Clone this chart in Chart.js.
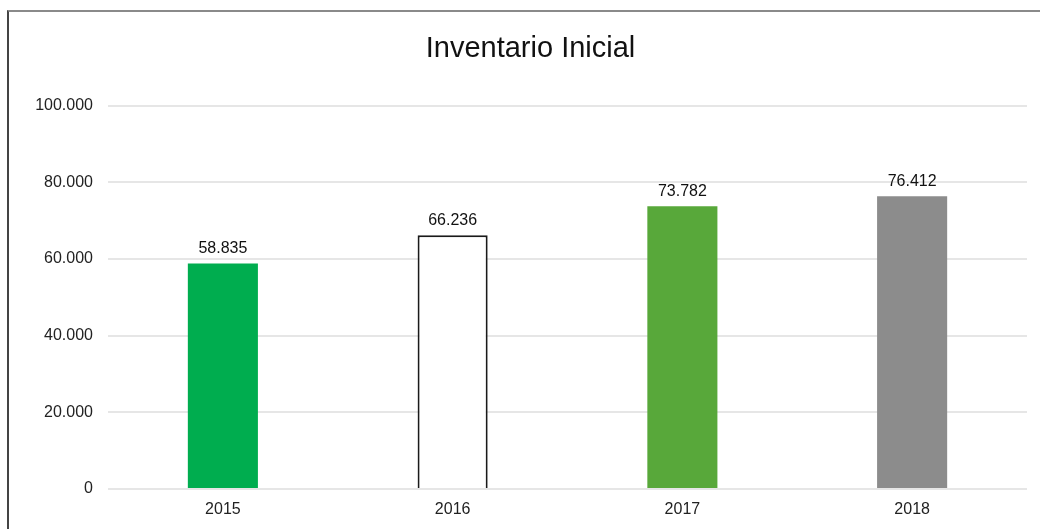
<!DOCTYPE html>
<html>
<head>
<meta charset="utf-8">
<script src="https://cdn.jsdelivr.net/npm/chart.js@4"></script>
<style>
html,body{margin:0;padding:0;background:#fff;overflow:hidden;}
#wrap{position:relative;width:1040px;height:529px;}
#frame{position:absolute;left:7px;top:10px;width:1100px;height:600px;border-top:2px solid #8a8a8a;border-left:2px solid #444;}
canvas{position:absolute;left:0;top:0;}
</style>
</head>
<body>
<div id="wrap">
<div id="frame"></div>
<canvas id="c" width="1040" height="529"></canvas>
</div>
<script>
const categories = ["2015", "2016", "2017", "2018"];
const values = [58835, 66236, 73782, 76412];
const barColors = ["#00AD4F", "#FFFFFF", "#58A83A", "#8C8C8C"];
const barBorders = ["#00AD4F", "#1a1a1a", "#58A83A", "#8C8C8C"];
const borderWidths = [0, 2, 0, 0];
const titleText = "Inventario Inicial";

const FONT = '"Liberation Sans", Arial, sans-serif';

function fmt(v){
  return String(Math.round(v)).replace(/\B(?=(\d{3})+(?!\d))/g, ".");
}

const labelPlugin = {
  id: 'valueLabels',
  afterDatasetsDraw(chart){
    const ctx = chart.ctx;
    const meta = chart.getDatasetMeta(0);
    ctx.save();
    ctx.font = '16px ' + FONT;
    ctx.fillStyle = '#111';
    ctx.textAlign = 'center';
    ctx.textBaseline = 'bottom';
    meta.data.forEach((bar, i) => {
      ctx.fillText(fmt(values[i]), bar.x, bar.y - 7);
    });
    ctx.restore();
  }
};

new Chart(document.getElementById('c'), {
  type: 'bar',
  data: {
    labels: categories,
    datasets: [{
      data: values,
      backgroundColor: barColors,
      borderColor: barBorders,
      borderWidth: borderWidths,
      categoryPercentage: 1,
      barPercentage: 0.305
    }]
  },
  options: {
    responsive: false,
    animation: false,
    layout: { padding: { left: 34, right: 13, top: 0, bottom: 0 } },
    plugins: {
      legend: { display: false },
      tooltip: { enabled: false },
      title: {
        display: true,
        text: titleText,
        color: '#111',
        font: { family: FONT, size: 29, weight: 'normal' },
        padding: { top: 32, bottom: 39 }
      }
    },
    scales: {
      x: {
        grid: { display: false, drawTicks: false },
        border: { display: false },
        ticks: {
          color: '#222',
          padding: 11,
          font: { family: FONT, size: 16 }
        },
        afterFit(s){ s.height = 40; }
      },
      y: {
        min: 0,
        max: 100000,
        border: { display: false },
        grid: { color: '#e6e6e6', lineWidth: 2, drawTicks: false },
        ticks: {
          stepSize: 20000,
          color: '#222',
          padding: 15,
          font: { family: FONT, size: 16 },
          callback: v => fmt(v)
        },
        afterFit(s){ s.width = 74; }
      }
    }
  },
  plugins: [labelPlugin]
});
</script>
</body>
</html>
